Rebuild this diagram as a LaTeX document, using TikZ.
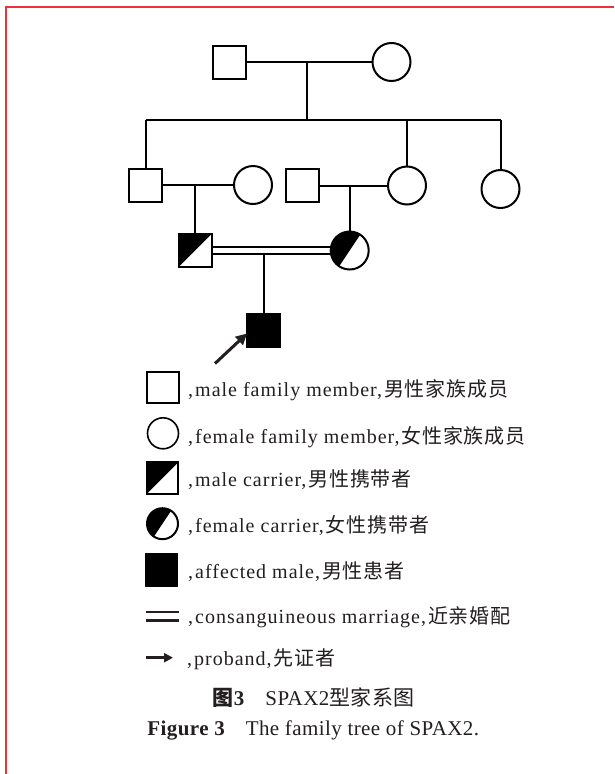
\documentclass[tikz,border=0pt]{standalone}
\usepackage{fontspec}
\setmainfont{Liberation Serif}
\newfontfamily\legfont[LetterSpace=5]{Liberation Serif}
\newfontfamily\capfont[LetterSpace=2]{Liberation Serif}
\newfontfamily\cjk[LetterSpace=2]{Noto Sans CJK SC}
\newfontfamily\legcjk[LetterSpace=4]{Noto Sans CJK SC}
\usetikzlibrary{arrows.meta,backgrounds}
\definecolor{framered}{RGB}{236,50,56}
\definecolor{ink}{RGB}{35,31,32}
\newcommand{\legline}[2]{{\legfont ,\hspace{2pt}#1,\hspace{2pt}}{\legcjk #2}}
\tikzset{
  basesym/.style={draw=black, line width=2pt, outer sep=0pt, inner sep=0pt, fill=white},
  male/.style={basesym, rectangle, minimum size=33pt},
  female/.style={basesym, circle, minimum size=38pt},
  mcarrier/.style={male, path picture={\fill[black] (path picture bounding box.north west) -- (path picture bounding box.north east) -- (path picture bounding box.south west) -- cycle;}},
  fcarrier/.style={female, path picture={\fill[black, shift={(path picture bounding box.center)}] (20pt,30pt) -- (-20pt,-30pt) -- (-40pt,-30pt) -- (-40pt,30pt) -- cycle;}},
  affected/.style={male, fill=black},
  conn/.style={draw=black, line width=2pt},
  dbl/.style={draw=black, double=white, double distance=5.5pt, line width=2pt},
  probarrow/.style={draw=ink, line width=3pt, -{Triangle[length=11pt,width=11pt]}},
  legtext/.style={anchor=base west, inner sep=0pt, font=\fontsize{20}{24}\selectfont, text=ink},
  captext/.style={anchor=base, inner sep=0pt, font=\fontsize{21}{25}\selectfont, text=ink},
  frameline/.style={draw=framered, line width=2pt}
}
\begin{document}
\begin{tikzpicture}[x=1pt,y=-1pt]
\useasboundingbox (0,0) rectangle (614,774);
% pedigree nodes
\node[male] (I1) at (229,62) {};
\node[female] (I2) at (391.5,62) {};
\node[male] (II1) at (145.5,185) {};
\node[female] (II2) at (253,185) {};
\node[male] (II3) at (302,185.5) {};
\node[female] (II4) at (407,185.5) {};
\node[female] (II5) at (500.5,189) {};
\node[mcarrier] (III1) at (195,250.5) {};
\node[fcarrier] (III2) at (349.7,250.5) {};
\node[affected] (IV1) at (263.5,330.5) {};
% helper coordinates
\coordinate (m1) at (307,62);
\coordinate (s1) at (307,120);
\coordinate (sL) at (145.5,120);
\coordinate (sR) at (500.5,120);
\coordinate (sII4) at (407,120);
\coordinate (m2) at (195,185);
\coordinate (m3) at (349.7,185.5);
\coordinate (m4) at (263.5,254.5);
\coordinate (arrstart) at (215,363.5);
\coordinate (arrtip) at (247,333.5);
\begin{scope}[on background layer]
\fill[white] (0,0) rectangle (614,774);
\draw[conn] (I1) -- (I2);
\draw[conn] (m1) -- (s1);
\draw[conn] (sL) -- (sR);
\draw[conn] (sL) -- (II1);
\draw[conn] (sII4) -- (II4);
\draw[conn] (sR) -- (II5);
\draw[conn] (II1) -- (II2);
\draw[conn] (m2) -- (III1);
\draw[conn] (II3) -- (II4);
\draw[conn] (m3) -- (III2);
\draw[dbl] (III1) -- (III2);
\draw[conn] (m4) -- (IV1);
\end{scope}
\draw[probarrow] (arrstart) -- (arrtip);
% frame
\draw[frameline] (6,774) -- (6,6.5) -- (614,6.5);
% legend
\node[male, minimum size=31.5pt, line width=1.6pt] (L1) at (163,387.5) {};
\node[female, minimum size=31pt, line width=1.6pt] (L2) at (163,433.3) {};
\node[mcarrier, minimum size=31.5pt] (L3) at (162.5,478) {};
\node[fcarrier, minimum size=31pt] (L4) at (162.5,523.7) {};
\node[affected, minimum size=31.5pt] (L5) at (161.5,570) {};
\coordinate (L6a) at (146,616);
\coordinate (L6b) at (179,616);
\draw[draw=ink, double=white, double distance=5.6pt, line width=2.7pt] (L6a) -- (L6b);
\coordinate (L7a) at (146,657.7);
\coordinate (L7b) at (173,657.7);
\draw[probarrow, -{Triangle[length=9pt,width=9pt]}] (L7a) -- (L7b);
\node[legtext] (T1) at (188,396.7) {\legline{male family member}{男性家族成员}};
\node[legtext] (T2) at (188,443.3) {\legline{female family member}{女性家族成员}};
\node[legtext] (T3) at (188,486.7) {\legline{male carrier}{男性携带者}};
\node[legtext] (T4) at (188,532.7) {\legline{female carrier}{女性携带者}};
\node[legtext] (T5) at (188,578.3) {\legline{affected male}{男性患者}};
\node[legtext] (T6) at (188,623.3) {\legline{consanguineous marriage}{近亲婚配}};
\node[legtext] (T7) at (187,665) {\legline{proband}{先证者}};
% captions
\node[captext] (C1) at (313.8,705) {{\cjk\bfseries 图}{\capfont\bfseries 3}\hspace{1em}{\capfont SPAX2}{\cjk 型家系图}};
\node[captext] (C2) at (313.3,735) {{\capfont\bfseries Figure 3}\hspace{1em}{\capfont The family tree of SPAX2.}};
\end{tikzpicture}
\end{document}
